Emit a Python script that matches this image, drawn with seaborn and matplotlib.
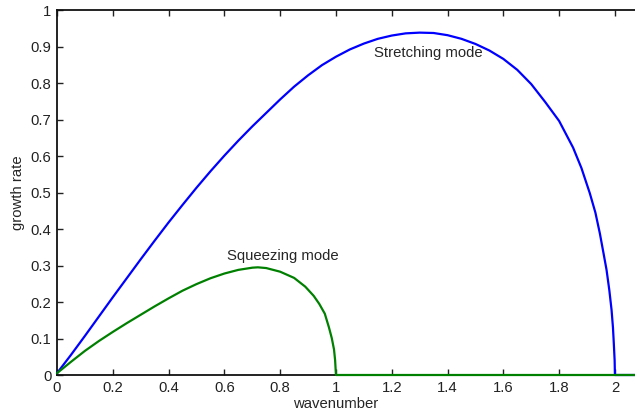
import numpy as np
import pandas as pd
import matplotlib
matplotlib.use("Agg")
import matplotlib.pyplot as plt
import seaborn as sns

# Data
stretch_k = [0.0, 0.05, 0.1, 0.15, 0.2, 0.25, 0.3, 0.35, 0.4, 0.45, 0.5, 0.55, 0.6,
             0.65, 0.7, 0.75, 0.8, 0.85, 0.9, 0.95, 1.0, 1.05, 1.1, 1.15, 1.2, 1.25,
             1.3, 1.35, 1.4, 1.45, 1.5, 1.55, 1.6, 1.65, 1.7, 1.75, 1.8, 1.85, 1.88,
             1.91, 1.93, 1.946, 1.96, 1.97, 1.98, 1.988, 1.993, 1.996, 1.999, 2.0, 2.072]
stretch_rate = [0.005, 0.055, 0.107, 0.16, 0.213, 0.265, 0.317, 0.368, 0.418, 0.466,
                0.513, 0.558, 0.601, 0.642, 0.681, 0.718, 0.755, 0.79, 0.821, 0.849,
                0.872, 0.892, 0.908, 0.921, 0.93, 0.936, 0.938, 0.937, 0.931, 0.921,
                0.907, 0.889, 0.866, 0.836, 0.797, 0.748, 0.696, 0.623, 0.567, 0.498,
                0.445, 0.388, 0.33, 0.288, 0.232, 0.178, 0.13, 0.087, 0.04, 0.0, 0.0]

squeeze_k = [0.0, 0.05, 0.1, 0.15, 0.2, 0.25, 0.3, 0.35, 0.4, 0.45, 0.5, 0.55, 0.6,
             0.65, 0.7, 0.72, 0.75, 0.8, 0.85, 0.89, 0.92, 0.94, 0.96, 0.975, 0.985,
             0.993, 0.997, 1.0, 2.072]
squeeze_rate = [0.005, 0.036, 0.066, 0.093, 0.118, 0.142, 0.165, 0.188, 0.21, 0.231,
                0.249, 0.265, 0.278, 0.288, 0.294, 0.295, 0.293, 0.283, 0.266, 0.242,
                0.217, 0.195, 0.168, 0.13, 0.101, 0.07, 0.04, 0.0, 0.0]

xticks = [0, 0.2, 0.4, 0.6, 0.8, 1, 1.2, 1.4, 1.6, 1.8, 2]
xticklabels = ["0", "0.2", "0.4", "0.6", "0.8", "1", "1.2", "1.4", "1.6", "1.8", "2"]
yticks = [0, 0.1, 0.2, 0.3, 0.4, 0.5, 0.6, 0.7, 0.8, 0.9, 1]
yticklabels = ["0", "0.1", "0.2", "0.3", "0.4", "0.5", "0.6", "0.7", "0.8", "0.9", "1"]

sns.set_style("ticks")
plt.rcParams['font.family'] = ['Liberation Sans', 'DejaVu Sans']

fs = 10.7
fig = plt.figure(figsize=(6.35, 4.15), dpi=100)
ax = fig.add_axes([57 / 635, 1 - 375 / 415, 1 - 57 / 635, (375 - 10) / 415])

df_s = pd.DataFrame({"k": stretch_k, "rate": stretch_rate})
df_q = pd.DataFrame({"k": squeeze_k, "rate": squeeze_rate})

sns.lineplot(data=df_s, x="k", y="rate", ax=ax, color=(0, 0, 1), linewidth=1.6,
             sort=False, estimator=None, clip_on=False, zorder=3)
sns.lineplot(data=df_q, x="k", y="rate", ax=ax, color=(0, 0.5, 0), linewidth=1.6,
             sort=False, estimator=None, clip_on=False, zorder=4)

ax.set_xlim(0, 2.072)
ax.set_ylim(0, 1)
ax.set_xticks(xticks)
ax.set_xticklabels(xticklabels)
ax.set_yticks(yticks)
ax.set_yticklabels(yticklabels)
ax.tick_params(direction="in", length=4, width=1, labelsize=fs, colors="#222222",
               top=True, right=False, pad=4)
for side in ["left", "bottom", "top"]:
    ax.spines[side].set_visible(True)
    ax.spines[side].set_linewidth(1.3)
    ax.spines[side].set_color("#111111")
ax.spines["right"].set_visible(False)

ax.set_xlabel("wavenumber", fontsize=fs)
ax.set_ylabel("growth rate", fontsize=fs)
ax.xaxis.set_label_coords((336 - 57) / (635 - 57), -0.06)
ax.yaxis.set_label_coords(-0.056, 0.5)

ax.text(1.136, 0.882, "Stretching mode", fontsize=fs, ha="left", va="center")
ax.text(0.61, 0.327, "Squeezing mode", fontsize=fs, ha="left", va="center")

fig.savefig("out.png", dpi=100)
